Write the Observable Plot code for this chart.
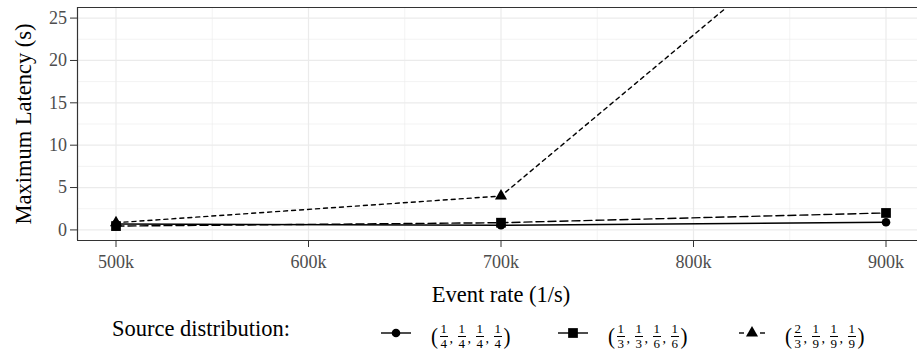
<!DOCTYPE html>
<html>
<head>
<meta charset="utf-8">
<script src="https://cdn.jsdelivr.net/npm/d3@7"></script>
<script src="https://cdn.jsdelivr.net/npm/@observablehq/plot@0.6"></script>
<style>
  html, body { margin: 0; padding: 0; background: #fff; }
  #wrap { position: relative; width: 917px; height: 353px; font-family: "Liberation Serif", "Times New Roman", serif; }
  #chart svg, #chart svg g, #chart svg text { font-family: "Liberation Serif", "Times New Roman", serif !important; font-variant: normal !important; }
  .lg { position: absolute; white-space: nowrap; }
  .title { font-size: 22.5px; left: 112px; top: 318px; line-height: 1; }
  .key { position: absolute; top: 325px; }
  .lab { position: absolute; top: 324px; height: 24px; display: flex; align-items: center; }
  .paren { font-size: 21px; line-height: 1; transform: scaleY(1.1); margin: 0 1px; }
  .frac { display: inline-flex; flex-direction: column; align-items: center; font-size: 13px; line-height: 1; margin: 0 1px; }
  .frac .num { border-bottom: 0.9px solid #000; padding: 0 0.5px 0.5px 0.5px; }
  .frac .den { padding-top: 0.5px; }
  .comma { font-size: 14px; align-self: center; margin: 6px 4px 0 1px; }
</style>
</head>
<body>
<div id="wrap"><div id="chart"></div></div>
<script>
// ---- data ----
const eventRates = [500000, 700000, 900000];
const seriesNames = ["quarter", "third", "twothirds"];
const circleLatency = [0.7, 0.55, 0.9];
const squareLatency = [0.45, 0.85, 2.0];
const triangleLatency = [0.85, 4.0, 42];
const xTicks = [500000, 600000, 700000, 800000, 900000];
const xTickLabels = ["500k", "600k", "700k", "800k", "900k"];
const xMinor = [550000, 650000, 750000, 850000];
const yTicks = [0, 5, 10, 15, 20, 25];
const yMinor = [2.5, 7.5, 12.5, 17.5, 22.5];
const xDomain = [480000, 916360];
const xCenter = 700000;
const yDomain = [-1.25, 26.25];
const legendTitle = "Source distribution:";
const distributions = [
  [[1, 4], [1, 4], [1, 4], [1, 4]],
  [[1, 3], [1, 3], [1, 6], [1, 6]],
  [[2, 3], [1, 9], [1, 9], [1, 9]]
];
const xLabel = "Event rate (1/s)";
const yLabel = "Maximum Latency (s)";

const rows = (vals, s) => eventRates.map((x, i) => ({x, y: vals[i], s}));
const circ = rows(circleLatency, seriesNames[0]);
const sq = rows(squareLatency, seriesNames[1]);
const tri = rows(triangleLatency, seriesNames[2]);

const font = '"Liberation Serif", "Times New Roman", serif';
const chart = Plot.plot({
  width: 917, height: 310,
  marginLeft: 77, marginRight: 0, marginTop: 7, marginBottom: 70,
  x: {domain: xDomain},
  y: {domain: yDomain},
  style: {fontFamily: font, background: "white", overflow: "visible"},
  marks: [
    Plot.ruleX(xMinor, {stroke: "#ebebeb", strokeWidth: 0.6}),
    Plot.ruleY(yMinor, {stroke: "#ebebeb", strokeWidth: 0.6}),
    Plot.ruleX(xTicks, {stroke: "#ebebeb", strokeWidth: 1.2}),
    Plot.ruleY(yTicks, {stroke: "#ebebeb", strokeWidth: 1.2}),
    Plot.line(circ, {x: "x", y: "y", stroke: "black", strokeWidth: 1.4, clip: true}),
    Plot.line(sq, {x: "x", y: "y", stroke: "black", strokeWidth: 1.4, strokeDasharray: "8,4", clip: true}),
    Plot.line(tri, {x: "x", y: "y", stroke: "black", strokeWidth: 1.4, strokeDasharray: "4,4", clip: true}),
    Plot.dot(circ, {x: "x", y: "y", symbol: "circle", r: 4.3, fill: "black", stroke: "none", clip: true}),
    Plot.dot(sq, {x: "x", y: "y", symbol: "square", r: 5.5, fill: "black", stroke: "none", clip: true}),
    Plot.dot(tri, {x: "x", y: "y", symbol: "triangle", r: 4.5, fill: "black", stroke: "none", clip: true}),
    Plot.ruleY([yDomain[0]], {stroke: "#333333", strokeWidth: 1.2}),
    Plot.ruleY([yDomain[1]], {stroke: "#333333", strokeWidth: 1.2}),
    Plot.ruleX([xDomain[0]], {stroke: "#333333", strokeWidth: 1.2}),
    Plot.axisX({ticks: xTicks, tickFormat: (d) => xTickLabels[xTicks.indexOf(d)], tickSize: 7, tickPadding: 8,
      fontSize: 18, fontFamily: font, stroke: "#333333", fill: "#4d4d4d", label: null}),
    Plot.axisY({ticks: yTicks, tickFormat: d => String(d), tickSize: 7, tickPadding: 3.5,
      fontSize: 18, fontFamily: font, stroke: "#333333", fill: "#4d4d4d", label: null}),
    Plot.text([xLabel], {x: () => xCenter, frameAnchor: "bottom", dy: 54, lineAnchor: "middle",
      textAnchor: "middle", fontSize: 22.5, fontFamily: font, fill: "black", text: d => d}),
    Plot.text([yLabel], {frameAnchor: "left", dx: -54, rotate: -90, lineAnchor: "middle",
      textAnchor: "middle", fontSize: 22.5, fontFamily: font, fill: "black", text: d => d})
  ]
});
document.getElementById("chart").appendChild(chart);

// ---- legend (HTML below the SVG) ----
const wrap = document.getElementById("wrap");
const t = document.createElement("div");
t.className = "lg title";
t.textContent = legendTitle;
wrap.appendChild(t);

const keyLeft = [380, 557, 736];
const labLeft = [430, 607, 784];
const shapes = ["circle", "square", "triangle"];
const ns = "http://www.w3.org/2000/svg";
const seg = (svg, x1, x2) => {
  const ln = document.createElementNS(ns, "line");
  ln.setAttribute("x1", x1); ln.setAttribute("x2", x2); ln.setAttribute("y1", 8); ln.setAttribute("y2", 8);
  ln.setAttribute("stroke", "black"); ln.setAttribute("stroke-width", 1.4);
  svg.appendChild(ln);
};
shapes.forEach((shape, k) => {
  const svg = document.createElementNS(ns, "svg");
  svg.setAttribute("width", 32); svg.setAttribute("height", 16);
  svg.setAttribute("class", "key");
  svg.style.left = keyLeft[k] + "px";
  if (k === 2) { seg(svg, 3, 8); seg(svg, 24, 29); }
  else seg(svg, 1, 31);
  const p = document.createElementNS(ns, "path");
  const sym = {circle: d3.symbolCircle, square: d3.symbolSquare, triangle: d3.symbolTriangle}[shape];
  const rr = [4.3, 5.5, 4.5][k];
  p.setAttribute("d", d3.symbol(sym, rr * rr * Math.PI)());
  p.setAttribute("transform", "translate(16,8)");
  svg.appendChild(p);
  wrap.appendChild(svg);

  const lab = document.createElement("div");
  lab.className = "lab";
  lab.style.left = labLeft[k] + "px";
  let html = '<span class="paren">(</span>';
  distributions[k].forEach(([n, d], j) => {
    html += `<span class="frac"><span class="num">${n}</span><span class="den">${d}</span></span>`;
    if (j < distributions[k].length - 1) html += '<span class="comma">,</span>';
  });
  html += '<span class="paren">)</span>';
  lab.innerHTML = html;
  wrap.appendChild(lab);
});
</script>
</body>
</html>
